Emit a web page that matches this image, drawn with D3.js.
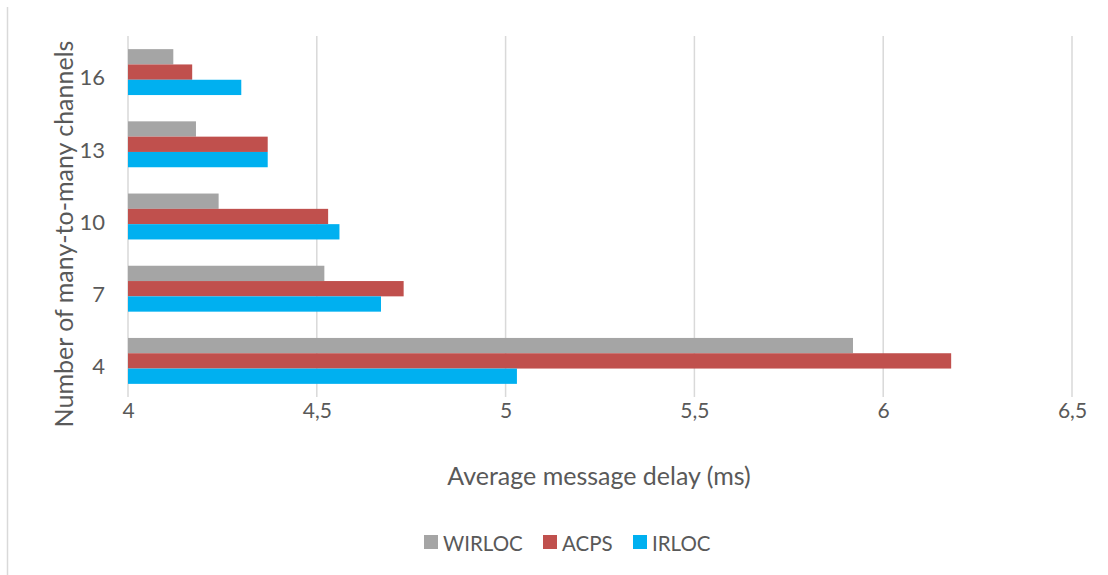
<!DOCTYPE html>
<html>
<head>
<meta charset="utf-8">
<script src="https://cdn.jsdelivr.net/npm/d3@7"></script>
<style>
  html, body { margin: 0; padding: 0; background: #fff; }
  svg { display: block; font-family: Lato, "Open Sans", sans-serif; }
</style>
</head>
<body>
<svg id="chart" width="1108" height="575"></svg>
<script>
// Channel counts (top to bottom) and average delay per protocol, in ms
const channels = ["16", "13", "10", "7", "4"];
const seriesNames = ["WIRLOC", "ACPS", "IRLOC"];
const wirloc = [4.12, 4.18, 4.24, 4.52, 5.92];
const acps   = [4.17, 4.37, 4.53, 4.73, 6.18];
const irloc  = [4.30, 4.37, 4.56, 4.67, 5.03];
const seriesColors = ["#A5A5A5", "#C0504D", "#00B0F0"];
const xTicks = [4, 4.5, 5, 5.5, 6, 6.5];
const xTickLabels = ["4", "4,5", "5", "5,5", "6", "6,5"];

const series = [wirloc, acps, irloc];
const rows = channels.map((c, i) => ({
  channel: c,
  values: seriesNames.map((name, k) => ({ name, value: series[k][i], color: seriesColors[k] }))
}));

const svg = d3.select("#chart");
const plotLeft = 128, plotRight = 1072, plotTop = 36, plotBottom = 397;
const textColor = "#595959";

// Outer frame line on the left side
svg.append("line")
  .attr("x1", 7.5).attr("x2", 7.5).attr("y1", 7).attr("y2", 575)
  .attr("stroke", "#d9d9d9").attr("stroke-width", 1.5);

const x = d3.scaleLinear().domain([4, 6.5]).range([plotLeft, plotRight]);
const y = d3.scaleBand().domain(channels).range([plotTop, plotBottom])
  .paddingInner(0.364).paddingOuter(0.182);
const yInner = d3.scaleBand().domain(seriesNames).range([0, y.bandwidth()]);

// Vertical gridlines
svg.append("g")
  .selectAll("line")
  .data(xTicks)
  .join("line")
  .attr("x1", d => x(d)).attr("x2", d => x(d))
  .attr("y1", plotTop).attr("y2", plotBottom)
  .attr("stroke", "#d9d9d9").attr("stroke-width", 1.5);

// Bars
const groups = svg.append("g")
  .selectAll("g")
  .data(rows)
  .join("g")
  .attr("transform", d => `translate(0,${y(d.channel)})`);

groups.selectAll("rect")
  .data(d => d.values)
  .join("rect")
  .attr("x", x(4))
  .attr("y", d => yInner(d.name))
  .attr("width", d => x(d.value) - x(4))
  .attr("height", yInner.bandwidth())
  .attr("fill", d => d.color);

// X axis labels
const xAxis = d3.axisBottom(x)
  .tickValues(xTicks)
  .tickFormat((d, i) => xTickLabels[i])
  .tickSize(0)
  .tickPadding(0);
const gx = svg.append("g")
  .attr("transform", `translate(0,${plotBottom})`)
  .call(xAxis);
gx.select(".domain").remove();
gx.selectAll("text")
  .attr("dy", null)
  .attr("y", 21)
  .attr("fill", textColor)
  .style("font-size", "21px")
  .style("font-family", "Lato, 'Open Sans', sans-serif");

// Y axis labels
const yAxis = d3.axisLeft(y).tickSize(0).tickPadding(0);
const gy = svg.append("g")
  .attr("transform", `translate(${plotLeft},0)`)
  .call(yAxis);
gy.select(".domain").remove();
gy.selectAll("text")
  .attr("x", -23)
  .attr("dy", "0.6em")
  .attr("fill", textColor)
  .style("font-size", "22px")
  .style("font-family", "Lato, 'Open Sans', sans-serif");

// Axis titles
svg.append("text")
  .attr("x", 599)
  .attr("y", 485)
  .attr("text-anchor", "middle")
  .attr("fill", textColor)
  .style("font-size", "25px")
  .text("Average message delay (ms)");

svg.append("text")
  .attr("transform", `translate(73,234) rotate(-90)`)
  .attr("text-anchor", "middle")
  .attr("fill", textColor)
  .style("font-size", "25px")
  .text("Number of many-to-many channels");

// Legend
const legendItems = seriesNames.map((name, k) => ({ name, color: seriesColors[k] }));
const legendX = [424, 543, 633];
const legend = svg.append("g")
  .selectAll("g")
  .data(legendItems)
  .join("g")
  .attr("transform", (d, i) => `translate(${legendX[i]},535)`);
legend.append("rect")
  .attr("width", 14).attr("height", 14)
  .attr("fill", d => d.color);
legend.append("text")
  .attr("x", 19).attr("y", 16)
  .attr("fill", textColor)
  .style("font-size", "20.5px")
  .text(d => d.name);
</script>
</body>
</html>
